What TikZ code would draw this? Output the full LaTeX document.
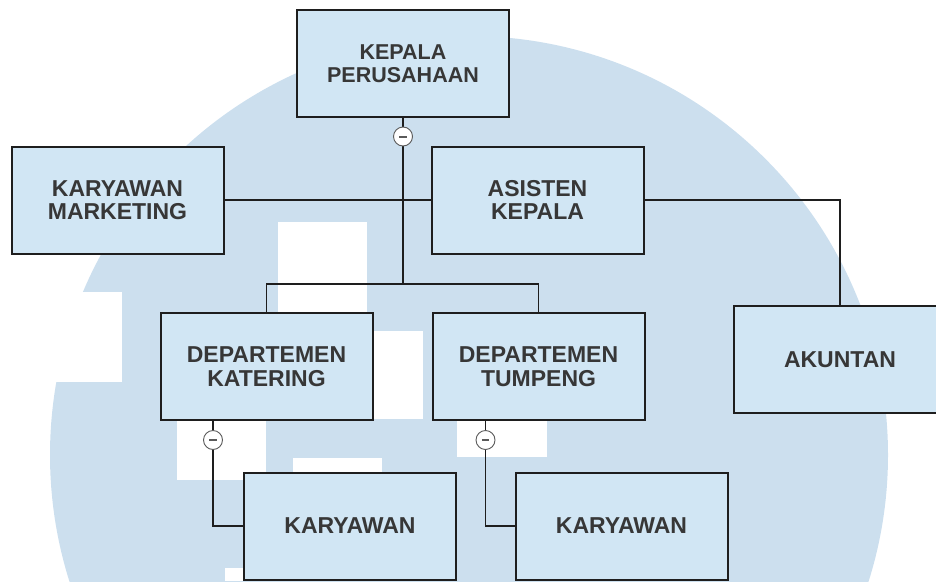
\documentclass[tikz,border=0pt]{standalone}
\usepackage{fontspec}
\setmainfont{Liberation Sans}
\definecolor{circfill}{RGB}{204,223,238}
\definecolor{boxfill}{RGB}{209,230,244}
\definecolor{txtgray}{RGB}{55,55,55}
\definecolor{linecol}{RGB}{30,30,30}
\definecolor{minusgray}{RGB}{90,90,90}
\tikzset{
  orgbox/.style={draw=linecol, line width=2pt, fill=boxfill, text=txtgray,
    font=\bfseries\fontsize{23}{23.5}\selectfont, align=center,
    minimum width=212pt, minimum height=107pt, inner sep=0pt},
  conn/.style={draw=linecol, line width=1.8pt},
  minusnode/.style={circle, draw=minusgray, line width=0.9pt, fill=white,
    minimum size=19pt, inner sep=0pt,
    path picture={\draw[line width=2pt, color=minusgray]
      ([xshift=-3.6pt]path picture bounding box.center) --
      ([xshift=3.6pt]path picture bounding box.center);}},
  whiteblk/.style={fill=white, draw=none}
}
\begin{document}
\begin{tikzpicture}[x=1pt, y=-1pt]
\useasboundingbox (0,0) rectangle (936,581);
\clip (0,0) rectangle (936,581);
% background watermark
\fill[circfill] (469,455) circle (419pt);
\fill[whiteblk] (30,292) rectangle (122,382);
\fill[whiteblk] (278,222) rectangle (367,313);
\fill[whiteblk] (360,331) rectangle (423,419);
\fill[whiteblk] (177,415) rectangle (266,480);
\fill[whiteblk] (293,458) rectangle (382,475);
\fill[whiteblk] (457,415) rectangle (547,457);
\fill[whiteblk] (225,568) rectangle (250,581);
% boxes
\node[orgbox, font=\bfseries\fontsize{21.5}{23}\selectfont] (kepala) at (403,63.5) {KEPALA\\PERUSAHAAN};
\node[orgbox] (marketing) at (117.5,200) {KARYAWAN\\MARKETING};
\node[orgbox] (asisten) at (537.5,200) {ASISTEN\\KEPALA};
\node[orgbox] (akuntan) at (840,359.5) {AKUNTAN};
\node[orgbox] (katering) at (266.5,366.5) {DEPARTEMEN\\KATERING};
\node[orgbox] (tumpeng) at (538.5,366.5) {DEPARTEMEN\\TUMPENG};
\node[orgbox] (kary1) at (350,526) {KARYAWAN};
\node[orgbox] (kary2) at (621.5,526) {KARYAWAN};
% connectors
\coordinate (j1) at (403,284);
\path[conn] (kepala.south) -- (j1);
\path[conn] (katering.north) |- (j1) -| (tumpeng.north);
\path[conn] (marketing.east) -- (asisten.west);
\path[conn] (asisten.east) -| (akuntan.north);
\path[conn] ([xshift=-53.5pt]katering.south) |- (kary1.west);
\path[conn] ([xshift=-53pt]tumpeng.south) |- (kary2.west);
% collapse markers
\node[minusnode] (m1) at (403,136.5) {};
\node[minusnode] (m2) at (213,440) {};
\node[minusnode] (m3) at (485.5,440) {};
\end{tikzpicture}
\end{document}
